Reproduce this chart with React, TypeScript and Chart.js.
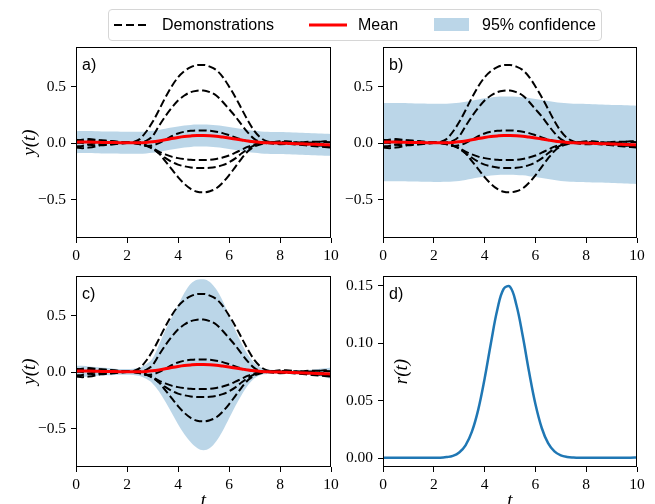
import React, { useEffect, useRef } from "react";
import { Chart, registerables } from "chart.js";
Chart.register(...registerables);

// ---------- data ----------
const T = [0, 0.25, 0.5, 0.75, 1, 1.25, 1.5, 1.75, 2, 2.25, 2.5, 2.75, 3, 3.25, 3.5, 3.75, 4, 4.25, 4.5, 4.75, 5,
  5.25, 5.5, 5.75, 6, 6.25, 6.5, 6.75, 7, 7.25, 7.5, 7.75, 8, 8.25, 8.5, 8.75, 9, 9.25, 9.5, 9.75, 10];

const demo1 = [0.02, 0.03, 0.035, 0.03, 0.02, 0.01, 0.005, 0, 0, 0.01, 0.035,
  0.1, 0.185, 0.29, 0.4, 0.5, 0.58, 0.635, 0.67, 0.688, 0.69,
  0.675, 0.645, 0.585, 0.5, 0.405, 0.3, 0.195, 0.105, 0.045, 0.015,
  0.005, 0.005, 0.005, 0, -0.005, 0, 0.005, 0.01, 0.015, 0.02];
const demo2 = [-0.03, -0.025, -0.015, 0, 0.01, 0.015, 0.012, 0.008, 0.005, 0.005, 0.008,
  0.02, 0.06, 0.15, 0.235, 0.31, 0.375, 0.42, 0.45, 0.462, 0.465,
  0.45, 0.42, 0.365, 0.3, 0.235, 0.16, 0.09, 0.035, 0.01, 0.005,
  0.01, 0.015, 0.015, 0.01, 0, -0.005, -0.01, -0.02, -0.025, -0.03];
const demo3 = [0.03, 0.02, 0.01, 0, -0.01, -0.012, -0.008, -0.002, 0.003, 0, -0.01,
  -0.025, -0.02, 0, 0.03, 0.06, 0.085, 0.1, 0.108, 0.112, 0.112,
  0.108, 0.1, 0.088, 0.07, 0.05, 0.032, 0.018, 0.01, 0.005, 0,
  -0.005, -0.01, -0.008, 0, 0.005, 0.01, 0.012, 0.012, 0.01, 0.008];
const demo4 = [-0.04, -0.045, -0.04, -0.03, -0.015, -0.005, 0, 0.005, 0.01, 0.008, 0,
  -0.02, -0.045, -0.075, -0.1, -0.12, -0.133, -0.142, -0.148, -0.15, -0.15,
  -0.148, -0.14, -0.128, -0.11, -0.085, -0.058, -0.032, -0.012, 0, 0.005,
  0.005, 0, -0.005, -0.01, -0.015, -0.02, -0.025, -0.03, -0.035, -0.04];
const demo5 = [0, 0.01, 0.02, 0.025, 0.025, 0.02, 0.015, 0.01, 0.005, 0, -0.008,
  -0.025, -0.05, -0.09, -0.13, -0.165, -0.19, -0.205, -0.215, -0.22, -0.22,
  -0.218, -0.21, -0.195, -0.17, -0.135, -0.09, -0.05, -0.02, -0.005, 0.005,
  0.01, 0.01, 0.01, 0.008, 0.005, 0.005, 0, -0.005, -0.012, -0.02];
const demo6 = [0.01, 0, -0.012, -0.02, -0.02, -0.015, -0.01, -0.005, 0, 0, -0.005,
  -0.02, -0.045, -0.09, -0.16, -0.23, -0.3, -0.36, -0.405, -0.43, -0.435,
  -0.425, -0.4, -0.35, -0.285, -0.21, -0.135, -0.07, -0.03, -0.01, 0,
  0.003, 0.002, 0, -0.003, -0.006, -0.01, -0.015, -0.02, -0.025, -0.03];

const meanY = [0.008, 0.009, 0.009, 0.008, 0.006, 0.005, 0.004, 0.003, 0.002, 0.002, 0.003,
  0.006, 0.011, 0.019, 0.029, 0.04, 0.05, 0.058, 0.063, 0.066, 0.066,
  0.064, 0.06, 0.053, 0.045, 0.036, 0.027, 0.018, 0.011, 0.006, 0.003,
  0.001, 0, -0.002, -0.004, -0.006, -0.008, -0.01, -0.012, -0.014, -0.016];

const bandAUpper = [0.105, 0.106, 0.106, 0.105, 0.103, 0.102, 0.101, 0.1, 0.099, 0.099, 0.1,
  0.103, 0.108, 0.116, 0.126, 0.137, 0.147, 0.155, 0.16, 0.163, 0.163,
  0.161, 0.157, 0.15, 0.142, 0.133, 0.124, 0.115, 0.108, 0.103, 0.1,
  0.098, 0.097, 0.095, 0.093, 0.091, 0.089, 0.087, 0.085, 0.083, 0.081];
const bandALower = [-0.089, -0.088, -0.088, -0.089, -0.091, -0.092, -0.093, -0.094, -0.095, -0.095, -0.094,
  -0.091, -0.086, -0.078, -0.068, -0.057, -0.047, -0.039, -0.034, -0.031, -0.031,
  -0.033, -0.037, -0.044, -0.052, -0.061, -0.07, -0.079, -0.086, -0.091, -0.094,
  -0.096, -0.097, -0.099, -0.101, -0.103, -0.105, -0.107, -0.109, -0.111, -0.113];

const bandBUpper = [0.353, 0.354, 0.354, 0.353, 0.351, 0.35, 0.349, 0.348, 0.347, 0.347, 0.348,
  0.351, 0.356, 0.364, 0.374, 0.385, 0.395, 0.403, 0.408, 0.411, 0.411,
  0.409, 0.405, 0.398, 0.39, 0.381, 0.372, 0.363, 0.356, 0.351, 0.348,
  0.346, 0.345, 0.343, 0.341, 0.339, 0.337, 0.335, 0.333, 0.331, 0.329];
const bandBLower = [-0.337, -0.336, -0.336, -0.337, -0.339, -0.34, -0.341, -0.342, -0.343, -0.343, -0.342,
  -0.339, -0.334, -0.326, -0.316, -0.305, -0.295, -0.287, -0.282, -0.279, -0.279,
  -0.281, -0.285, -0.292, -0.3, -0.309, -0.318, -0.327, -0.334, -0.339, -0.342,
  -0.344, -0.345, -0.347, -0.349, -0.351, -0.353, -0.355, -0.357, -0.359, -0.361];

const bandCUpper = [0.055, 0.055, 0.05, 0.045, 0.04, 0.035, 0.03, 0.028, 0.028, 0.03, 0.04,
  0.07, 0.12, 0.24, 0.37, 0.48, 0.59, 0.7, 0.78, 0.815, 0.82,
  0.795, 0.73, 0.63, 0.5, 0.37, 0.25, 0.15, 0.08, 0.04, 0.025,
  0.018, 0.015, 0.014, 0.013, 0.014, 0.017, 0.021, 0.027, 0.033, 0.04];
const bandCLower = [-0.045, -0.045, -0.04, -0.035, -0.03, -0.028, -0.025, -0.023, -0.023, -0.025, -0.035,
  -0.06, -0.1, -0.17, -0.26, -0.36, -0.46, -0.55, -0.62, -0.67, -0.69,
  -0.67, -0.61, -0.52, -0.41, -0.3, -0.2, -0.115, -0.055, -0.025, -0.017,
  -0.014, -0.013, -0.014, -0.016, -0.019, -0.023, -0.028, -0.035, -0.045, -0.06];

const rY = [0.0005, 0.0005, 0.0005, 0.0005, 0.0005, 0.0005, 0.0005, 0.0005, 0.0005, 0.0005, 0.0011,
  0.0022, 0.0051, 0.0113, 0.0232, 0.0424, 0.0692, 0.1003, 0.1291, 0.1473, 0.1491,
  0.1335, 0.1065, 0.0752, 0.0472, 0.0264, 0.0132, 0.006, 0.0026, 0.0012, 0.0007,
  0.0005, 0.0005, 0.0005, 0.0005, 0.0005, 0.0005, 0.0005, 0.0005, 0.0006, 0.0008];

const X_TICKS = [0, 2, 4, 6, 8, 10];
const Y_TICKS = [-0.5, 0, 0.5];
const R_TICKS = [0, 0.05, 0.1, 0.15];
const LEGEND_LABELS = ["Demonstrations", "Mean", "95% confidence"];

// ---------- styling ----------
const W = 655;
const H = 504;
const YW = 60;
const XH = 30;
const BAND = "rgba(31,119,180,0.3)";
const TICK_FONT = { family: "'Liberation Serif', serif", size: 15.5 };

const pts = (ys: number[]) => ys.map((y, i) => ({ x: T[i], y }));

const fmt = (v: number, d: number) => {
  const s = Math.abs(v).toFixed(d);
  return v < 0 ? "\u2212" + s : s;
};

const deco = {
  id: "deco",
  afterDraw(chart: any, _a: any, o: any) {
    const { ctx, chartArea: a } = chart;
    ctx.save();
    ctx.strokeStyle = "#000";
    ctx.lineWidth = 1;
    ctx.strokeRect(Math.round(a.left) + 0.5, Math.round(a.top) + 0.5,
      Math.round(a.right) - Math.round(a.left) - 1, Math.round(a.bottom) - Math.round(a.top) - 1);
    ctx.fillStyle = "#000";
    ctx.font = "16px 'Liberation Sans', sans-serif";
    ctx.textAlign = "left";
    ctx.textBaseline = "alphabetic";
    ctx.fillText(o.letter, a.left + 6, a.top + 23);
    ctx.font = "italic 19px 'Liberation Serif', serif";
    if (o.ylab) {
      ctx.save();
      ctx.translate(o.ylabX, (a.top + a.bottom) / 2);
      ctx.rotate(-Math.PI / 2);
      ctx.textAlign = "center";
      ctx.textBaseline = "middle";
      ctx.fillText(o.ylab, 0, 0);
      ctx.restore();
    }
    if (o.xlab) {
      ctx.textAlign = "center";
      ctx.textBaseline = "top";
      ctx.fillText(o.xlab, (a.left + a.right) / 2, o.xlabY);
    }
    ctx.restore();
  },
};

type Panel = {
  area: { left: number; top: number; right: number; bottom: number };
  yMin: number; yMax: number; yTicks: number[]; dec: number;
  datasets: any[];
  letter: string; ylab?: string; ylabX?: number; xlab?: string;
};

function lineDs(ys: number[], color: string, width: number, dash: number[] = [], mode = "monotone") {
  return {
    data: pts(ys), borderColor: color, borderWidth: width, borderDash: dash,
    pointRadius: 0, fill: false, cubicInterpolationMode: mode, tension: 0.4,
  };
}

function bandDs(up: number[], lo: number[]) {
  return [
    { data: pts(up), borderColor: "rgba(0,0,0,0)", borderWidth: 0, pointRadius: 0, fill: "+1",
      backgroundColor: BAND, cubicInterpolationMode: "monotone", tension: 0.4 },
    { data: pts(lo), borderColor: "rgba(0,0,0,0)", borderWidth: 0, pointRadius: 0, fill: false,
      cubicInterpolationMode: "monotone", tension: 0.4 },
  ];
}

const demos = [demo1, demo2, demo3, demo4, demo5, demo6];
const demoSets = () => demos.map((d) => lineDs(d, "#000", 2, [8, 3.5]));

const PANELS: Panel[] = [
  {
    area: { left: 76, top: 47, right: 331, bottom: 238 }, yMin: -0.838, yMax: 0.848, yTicks: Y_TICKS, dec: 1,
    datasets: [lineDs(meanY, "#ff0000", 3), ...demoSets(), ...bandDs(bandAUpper, bandALower)],
    letter: "a)", ylab: "y(t)", ylabX: 30,
  },
  {
    area: { left: 383, top: 47, right: 637, bottom: 238 }, yMin: -0.838, yMax: 0.848, yTicks: Y_TICKS, dec: 1,
    datasets: [lineDs(meanY, "#ff0000", 3), ...demoSets(), ...bandDs(bandBUpper, bandBLower)],
    letter: "b)",
  },
  {
    area: { left: 76, top: 276, right: 331, bottom: 467 }, yMin: -0.838, yMax: 0.848, yTicks: Y_TICKS, dec: 1,
    datasets: [lineDs(meanY, "#ff0000", 3), ...demoSets(), ...bandDs(bandCUpper, bandCLower)],
    letter: "c)", ylab: "y(t)", ylabX: 30, xlab: "t",
  },
  {
    area: { left: 383, top: 276, right: 637, bottom: 467 }, yMin: -0.0075, yMax: 0.1585, yTicks: R_TICKS, dec: 2,
    datasets: [lineDs(rY, "#1f77b4", 2.5, [], "default")],
    letter: "d)", ylab: "r(t)", ylabX: 402, xlab: "t",
  },
];

function makeChart(canvas: HTMLCanvasElement, p: Panel) {
  const tickGrid = {
    display: true, drawOnChartArea: false, drawTicks: true, tickLength: 5, color: "#000", lineWidth: 1,
  };
  return new Chart(canvas, {
    type: "line",
    data: { datasets: p.datasets },
    plugins: [deco],
    options: {
      responsive: false,
      animation: false,
      devicePixelRatio: 1,
      events: [],
      layout: {
        padding: {
          left: p.area.left - YW, top: p.area.top, right: W - p.area.right, bottom: H - p.area.bottom - XH,
        },
      },
      plugins: {
        legend: { display: false },
        tooltip: { enabled: false },
        deco: { letter: p.letter, ylab: p.ylab, ylabX: p.ylabX, xlab: p.xlab, xlabY: 491 },
      } as any,
      scales: {
        x: {
          type: "linear", min: 0, max: 10,
          afterBuildTicks: (s: any) => { s.ticks = X_TICKS.map((v) => ({ value: v })); },
          afterFit: (s: any) => { s.height = XH; },
          grid: tickGrid, border: { display: false },
          ticks: { font: TICK_FONT, color: "#000", padding: 4, maxRotation: 0, autoSkip: false,
            callback: (v: any) => String(v) },
        },
        y: {
          type: "linear", min: p.yMin, max: p.yMax,
          afterBuildTicks: (s: any) => { s.ticks = p.yTicks.map((v) => ({ value: v })); },
          afterFit: (s: any) => { s.width = YW; },
          grid: tickGrid, border: { display: false },
          ticks: { font: TICK_FONT, color: "#000", padding: 5, autoSkip: false,
            callback: (v: any) => fmt(Number(v), p.dec) },
        },
      },
    } as any,
  });
}

function LegendSample({ kind }: { kind: number }) {
  if (kind === 0)
    return (
      <svg width={36} height={12} style={{ display: "block" }}>
        <line x1={0} y1={6} x2={36} y2={6} stroke="#000" strokeWidth={2} strokeDasharray="8 4" />
      </svg>
    );
  if (kind === 1)
    return (
      <svg width={38} height={12} style={{ display: "block" }}>
        <line x1={0} y1={6} x2={38} y2={6} stroke="#ff0000" strokeWidth={3} />
      </svg>
    );
  return <div style={{ width: 35, height: 13, background: BAND }} />;
}

export default function App() {
  const refs = [useRef<HTMLCanvasElement>(null), useRef<HTMLCanvasElement>(null),
    useRef<HTMLCanvasElement>(null), useRef<HTMLCanvasElement>(null)];
  useEffect(() => {
    const charts = PANELS.map((p, i) => makeChart(refs[i].current!, p));
    return () => charts.forEach((c) => c.destroy());
  }, []);

  const sampleX = [114, 309, 434];
  const textX = [162, 358, 482];
  return (
    <div style={{ position: "absolute", left: 0, top: 0, width: W, height: H, background: "#fff", overflow: "hidden" }}>
      {PANELS.map((_, i) => (
        <canvas key={i} ref={refs[i]} width={W} height={H}
          style={{ position: "absolute", left: 0, top: 0, width: W, height: H }} />
      ))}
      <div style={{
        position: "absolute", left: 108, top: 9, width: 494, height: 32, boxSizing: "border-box",
        border: "1px solid #d6d6d6", borderRadius: 4, background: "rgba(255,255,255,0.8)",
      }} />
      {LEGEND_LABELS.map((lab, i) => (
        <React.Fragment key={lab}>
          <div style={{ position: "absolute", left: sampleX[i], top: i === 2 ? 18 : 18.5 }}>
            <LegendSample kind={i} />
          </div>
          <div style={{
            position: "absolute", left: textX[i], top: 16, font: "16px 'Liberation Sans', sans-serif",
            color: "#000", whiteSpace: "nowrap",
          }}>{lab}</div>
        </React.Fragment>
      ))}
    </div>
  );
}
